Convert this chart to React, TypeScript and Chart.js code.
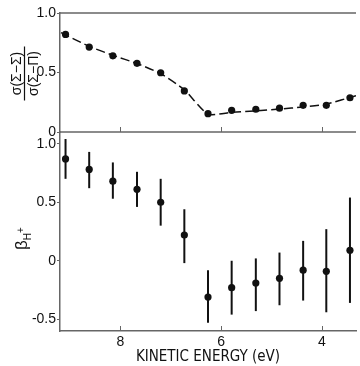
import React, { useEffect, useRef } from "react";
import { Chart, registerables } from "chart.js";

Chart.register(...registerables);

// Kinetic energy (eV) of each measurement
const ENERGY = [9.09, 8.62, 8.15, 7.67, 7.2, 6.73, 6.26, 5.79, 5.31, 4.84, 4.37, 3.91, 3.44];
// Top panel: cross-section ratio
const RATIO = [0.82, 0.714, 0.64, 0.577, 0.498, 0.345, 0.154, 0.182, 0.191, 0.2, 0.224, 0.224, 0.288];
// Top panel: dashed fit curve
const FIT_E = [9.18, 8.62, 8.15, 7.67, 7.2, 6.73, 6.26, 5.79, 5.31, 4.84, 4.37, 3.91, 3.32];
const FIT_R = [0.835, 0.72, 0.645, 0.575, 0.49, 0.355, 0.15, 0.165, 0.178, 0.193, 0.21, 0.235, 0.305];
// Bottom panel: asymmetry parameter beta with error bar limits
const BETA = [0.87, 0.78, 0.68, 0.61, 0.5, 0.22, -0.31, -0.23, -0.19, -0.15, -0.08, -0.09, 0.09];
const BETA_LO = [0.7, 0.62, 0.53, 0.46, 0.3, -0.02, -0.53, -0.46, -0.43, -0.38, -0.34, -0.44, -0.36];
const BETA_HI = [1.04, 0.93, 0.84, 0.76, 0.7, 0.44, -0.08, 0.0, 0.02, 0.07, 0.17, 0.27, 0.54];

const X_TICKS = [8, 6, 4];
const TOP_TICKS = [0, 0.5, 1.0];
const BOT_TICKS = [-0.5, 0, 0.5, 1.0];

const X_TITLE = "KINETIC ENERGY (eV)";
const NUM_LABEL = "σ(Σ−Σ)";
const DEN_LABEL = "σ(Σ−Π)";

const INK = "#111";
const AXIS = "#666";
const FONT = '"Liberation Sans", Arial, sans-serif';
const NARROW = '"Liberation Sans Narrow", "DejaVu Sans Condensed", sans-serif';

const fmt = (v: number) => (v === 0 ? "0" : v.toFixed(1));

const decor = {
  id: "decor",
  beforeDatasetsDraw(chart: any) {
    const { ctx } = chart;
    const x = chart.scales.x;
    const yb = chart.scales.yBot;
    ctx.save();
    ctx.strokeStyle = INK;
    ctx.lineWidth = 2;
    ENERGY.forEach((e, i) => {
      const px = x.getPixelForValue(e);
      ctx.beginPath();
      ctx.moveTo(px, yb.getPixelForValue(BETA_LO[i]));
      ctx.lineTo(px, yb.getPixelForValue(BETA_HI[i]));
      ctx.stroke();
    });
    ctx.restore();
  },
  afterDraw(chart: any) {
    const { ctx, chartArea } = chart;
    const x = chart.scales.x;
    const yt = chart.scales.yTop;
    ctx.save();
    ctx.strokeStyle = AXIS;
    ctx.lineWidth = 1.5;
    ctx.beginPath();
    ctx.moveTo(chartArea.left, chartArea.top);
    ctx.lineTo(chartArea.right, chartArea.top);
    ctx.moveTo(chartArea.left, yt.bottom);
    ctx.lineTo(chartArea.right, yt.bottom);
    ctx.stroke();
    ctx.lineWidth = 1;
    ctx.beginPath();
    X_TICKS.forEach((t) => {
      const px = Math.round(x.getPixelForValue(t)) + 0.5;
      ctx.moveTo(px, yt.bottom);
      ctx.lineTo(px, yt.bottom - 5);
      ctx.moveTo(px, chartArea.bottom);
      ctx.lineTo(px, chartArea.bottom - 5);
    });
    ctx.stroke();

    ctx.fillStyle = INK;
    // top panel label (fraction)
    ctx.save();
    ctx.translate(24.5, 73.5);
    ctx.rotate(-Math.PI / 2);
    ctx.textAlign = "center";
    ctx.textBaseline = "alphabetic";
    ctx.font = `14px ${FONT}`;
    ctx.fillText(NUM_LABEL, 0, -4);
    ctx.fillText(DEN_LABEL, 0, 13);
    ctx.fillRect(-27, -0.6, 54, 1.2);
    ctx.restore();

    // bottom panel label beta_H+
    ctx.save();
    ctx.translate(27, 250);
    ctx.rotate(-Math.PI / 2);
    ctx.textAlign = "left";
    ctx.textBaseline = "alphabetic";
    ctx.font = `17px ${FONT}`;
    ctx.fillText("β", 0, 0);
    const wb = ctx.measureText("β").width;
    ctx.font = `10px ${FONT}`;
    ctx.fillText("H", wb, 4);
    const wh = ctx.measureText("H").width;
    ctx.fillText("+", wb + wh, -3);
    ctx.restore();
    ctx.restore();
  },
};

export default function App() {
  const ref = useRef<HTMLCanvasElement | null>(null);
  useEffect(() => {
    if (!ref.current) return;
    const yCommon = (ticks: number[]) => ({
      type: "linear" as const,
      position: "left" as const,
      stack: "panels",
      afterBuildTicks: (s: any) => {
        s.ticks = ticks.map((v) => ({ value: v }));
      },
      afterFit: (s: any) => {
        s.width = 60;
      },
      grid: { display: true, drawOnChartArea: false, drawTicks: true, tickLength: 3, color: AXIS },
      border: { display: true, color: AXIS, width: 1.5 },
      ticks: {
        padding: 1,
        color: INK,
        font: { family: FONT, size: 14 },
        callback: (v: any) => fmt(Number(v)),
      },
    });
    const chart = new Chart(ref.current, {
      type: "line",
      data: {
        datasets: [
          {
            label: "fit",
            yAxisID: "yTop",
            data: FIT_E.map((e, i) => ({ x: e, y: FIT_R[i] })),
            borderColor: INK,
            borderWidth: 1.5,
            borderDash: [9, 4],
            pointRadius: 0,
            tension: 0.2,
          },
          {
            label: "ratio",
            yAxisID: "yTop",
            data: ENERGY.map((e, i) => ({ x: e, y: RATIO[i] })),
            showLine: false,
            pointRadius: 3.6,
            pointBackgroundColor: INK,
            pointBorderWidth: 0,
          },
          {
            label: "beta",
            yAxisID: "yBot",
            data: ENERGY.map((e, i) => ({ x: e, y: BETA[i] })),
            showLine: false,
            pointRadius: 3.6,
            pointBackgroundColor: INK,
            pointBorderWidth: 0,
          },
        ],
      },
      options: {
        animation: false,
        responsive: false,
        devicePixelRatio: 1,
        layout: { padding: { top: 13, left: 0, right: 0, bottom: 0 } },
        plugins: { legend: { display: false }, tooltip: { enabled: false } },
        scales: {
          x: {
            type: "linear",
            reverse: true,
            min: 3.32,
            max: 9.2,
            afterBuildTicks: (s: any) => {
              s.ticks = X_TICKS.map((v) => ({ value: v }));
            },
            afterFit: (s: any) => {
              s.height = 35;
            },
            grid: { display: false, drawTicks: false },
            border: { display: true, color: AXIS, width: 1.5 },
            ticks: {
              padding: 3,
              maxRotation: 0,
              color: INK,
              font: { family: FONT, size: 14 },
              callback: (v: any) => String(v),
            },
            title: {
              display: true,
              text: X_TITLE,
              color: INK,
              font: { family: NARROW, size: 15 },
              padding: { top: 0, bottom: 0 },
            },
          },
          yBot: { ...yCommon(BOT_TICKS), min: -0.6, max: 1.1, stackWeight: 199 },
          yTop: { ...yCommon(TOP_TICKS), min: 0, max: 1, stackWeight: 119 },
        },
      } as any,
      plugins: [decor],
    });
    return () => chart.destroy();
  }, []);
  return (
    <div style={{ position: "absolute", left: 0, top: 0, width: 360, height: 366, background: "#fff" }}>
      <canvas ref={ref} width={360} height={366} style={{ display: "block" }} />
    </div>
  );
}
